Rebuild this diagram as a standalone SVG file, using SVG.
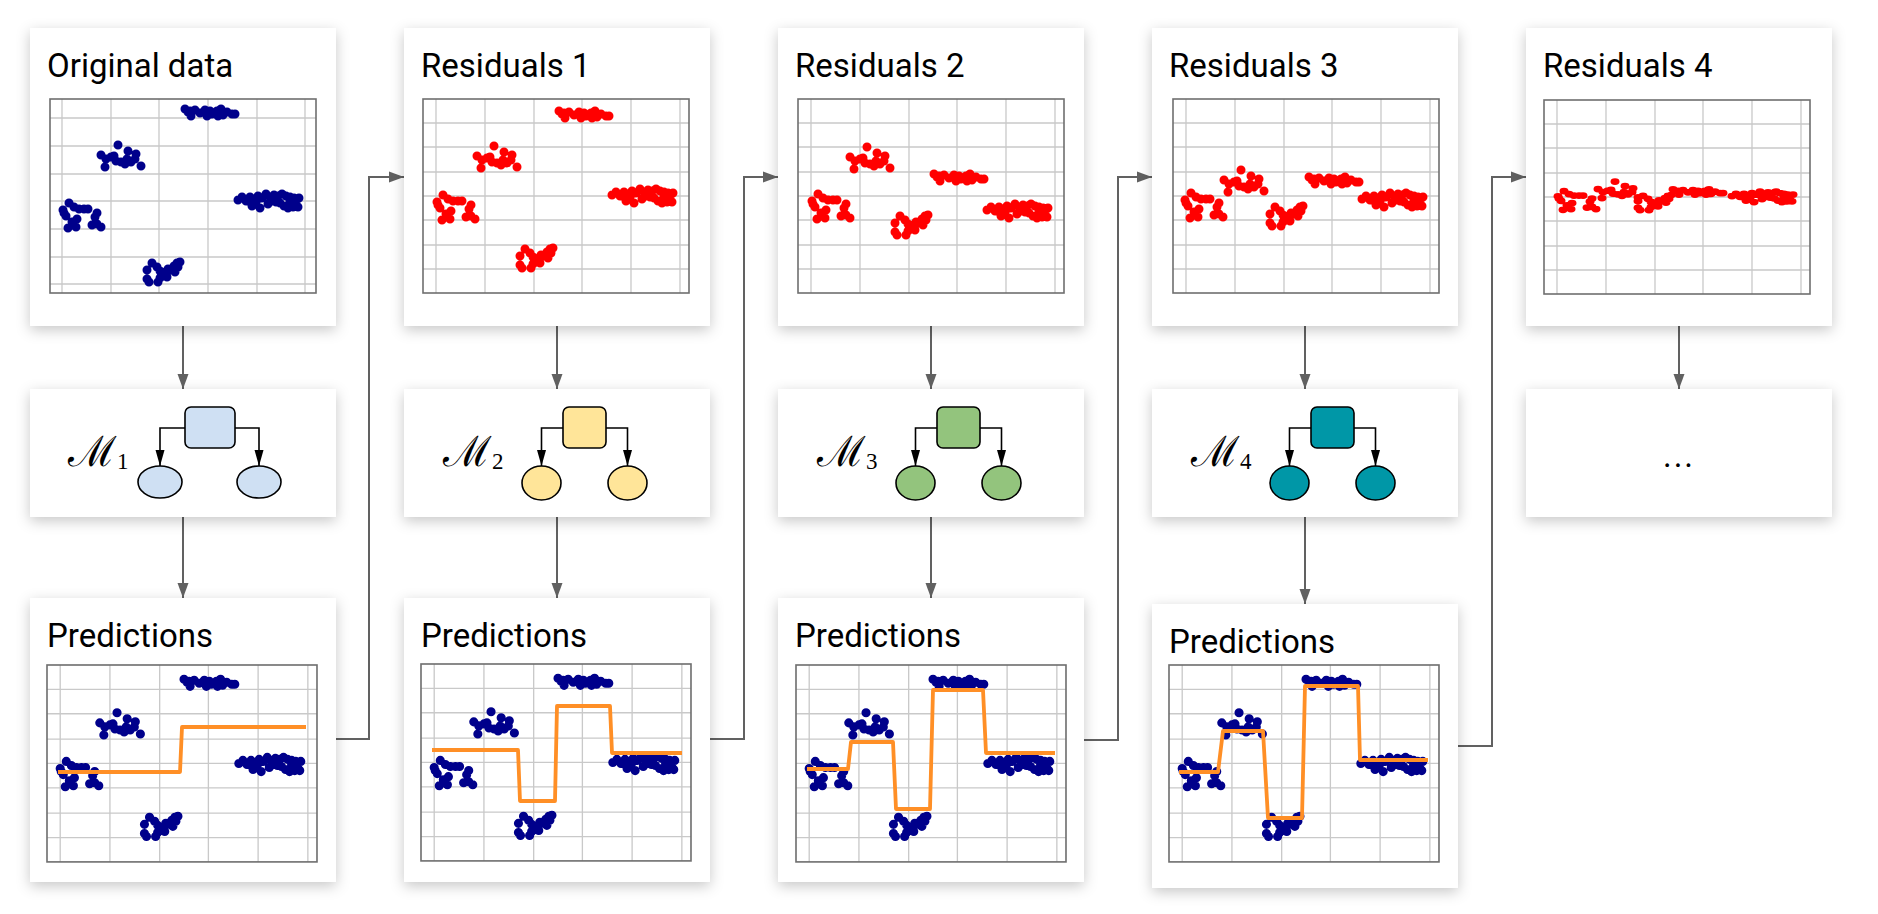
<svg xmlns="http://www.w3.org/2000/svg" xmlns:xlink="http://www.w3.org/1999/xlink" width="1878" height="914" viewBox="0 0 1878 914">
<style>
.card{fill:#fff;filter:url(#sh)}
.title{font-family:Roboto,'Liberation Sans',sans-serif;font-size:33px;fill:#000}
.gbg{fill:#fff}
.gl{stroke:#c9c9c9;stroke-width:1.3;fill:none}
.gb{fill:none;stroke:#6f6f6f;stroke-width:1.6}
.blue{stroke:#00008b;stroke-width:9;stroke-linecap:round;fill:none}
.red{stroke:#ff0000;stroke-width:9;stroke-linecap:round;fill:none}
.pred{fill:none;stroke:#ff8f26;stroke-width:3.8;stroke-linejoin:round}
.conn{fill:none;stroke:#616161;stroke-width:2}
.tree{fill:none;stroke:#000;stroke-width:1.6}
.node{stroke:#000;stroke-width:1.6}
.m{font-family:'DejaVu Serif',serif;font-size:42px;fill:#000}
.sub{font-family:'Liberation Serif',serif;font-size:23px}
</style>
<defs>
<filter id="sh" x="-15%" y="-15%" width="130%" height="135%">
<feDropShadow dx="0" dy="4" stdDeviation="7" flood-color="#000" flood-opacity="0.22"/>
</filter>
<marker id="ah" markerUnits="userSpaceOnUse" markerWidth="15" markerHeight="12" refX="15" refY="6" orient="auto">
<path d="M0,0.5 L15,6 L0,11.5 z" fill="#616161"/>
</marker>
<marker id="th" markerUnits="userSpaceOnUse" markerWidth="16" markerHeight="10" refX="16" refY="5" orient="auto">
<path d="M0,0.5 L16,5 L0,9.5 z" fill="#000"/>
</marker>
<g id="gridStd">
<rect class="gbg" x="0" y="0" width="266" height="194"/>
<path class="gl" d="M13,0V194M62,0V194M111,0V194M159,0V194M208,0V194M257,0V194M0,24H266M0,48H266M0,73H266M0,97H266M0,121H266M0,146H266M0,170H266"/>
<rect class="gb" x="0" y="0" width="266" height="194"/>
</g>
<g id="gridOrig">
<rect class="gbg" x="0" y="0" width="266" height="194"/>
<path class="gl" d="M12,0V194M61,0V194M109,0V194M158,0V194M207,0V194M255,0V194M0,19H266M0,47H266M0,75H266M0,102H266M0,130H266M0,158H266M0,185H266"/>
<rect class="gb" x="0" y="0" width="266" height="194"/>
</g>
<path id="cL" d="M-18,-5h.01M-12,-12h.01M-7,-8h.01M-2,-6h.01M3,-6h.01M7,-6h.01M16,-2h.01M-15,1h.01M-13,13h.01M-5,12h.01M11,10h.01M16,9h.01M20,12h.01M-17,-2h.01M14,2h.01M-4,4h.01M-9,7h.01"/>
<path id="cUL" d="M-5,-14h.01M-22,-4h.01M-17,0h.01M-12,-2h.01M-18,8h.01M-7,2h.01M-2,3h.01M5,-8h.01M4,0h.01M8,3h.01M13,-5h.01M12,0h.01M18,7h.01M2,5h.01M-9,-3h.01"/>
<path id="cT" d="M-25,-5h.01M-20,-3h.01M-15,-4h.01M-19,2h.01M-10,-1h.01M-5,-4h.01M-3,2h.01M2,0h.01M7,-3h.01M11,-5h.01M13,1h.01M17,-2h.01M22,0h.01M25,0h.01M-22,-2h.01M0,-3h.01M8,2h.01"/>
<path id="cR" d="M-32,0h.01M-28,-3h.01M-24,1h.01M-20,-3h.01M-16,-1h.01M-12,-4h.01M-8,-2h.01M-4,-6h.01M0,-3h.01M4,-5h.01M2,1h.01M-14,3h.01M-18,6h.01M-10,8h.01M8,-4h.01M12,-6h.01M16,-4h.01M20,-3h.01M24,-2h.01M29,-2h.01M10,3h.01M14,6h.01M18,8h.01M23,7h.01M28,7h.01M-2,4h.01M6,2h.01M20,1h.01M26,2h.01"/>
<path id="cB" d="M-18,0h.01M-13,-7h.01M-8,-3h.01M-5,1h.01M-3,4h.01M2,7h.01M-5,8h.01M-18,9h.01M-16,12h.01M-7,12h.01M5,0h.01M9,-4h.01M12,-7h.01M15,-8h.01M13,-3h.01M10,2h.01M3,-1h.01"/>
<g id="dataPred">
<use xlink:href="#cL" transform="translate(31,107)"/>
<use xlink:href="#cUL" transform="translate(74,61)"/>
<use xlink:href="#cT" transform="translate(160,19)"/>
<use xlink:href="#cR" transform="translate(221,97)"/>
<use xlink:href="#cB" transform="translate(114,157)"/>
</g>
</defs>
<rect width="1878" height="914" fill="#fff"/>

<g id="connectors">
<path class="conn" marker-end="url(#ah)" d="M183,326V389"/>
<path class="conn" marker-end="url(#ah)" d="M557,326V389"/>
<path class="conn" marker-end="url(#ah)" d="M931,326V389"/>
<path class="conn" marker-end="url(#ah)" d="M1305,326V389"/>
<path class="conn" marker-end="url(#ah)" d="M1679,326V389"/>
<path class="conn" marker-end="url(#ah)" d="M183,517V598"/>
<path class="conn" marker-end="url(#ah)" d="M557,517V598"/>
<path class="conn" marker-end="url(#ah)" d="M931,517V598"/>
<path class="conn" marker-end="url(#ah)" d="M1305,517V604"/>
<path class="conn" marker-end="url(#ah)" d="M336,739H369V177H404"/>
<path class="conn" marker-end="url(#ah)" d="M710,739H744V177H778"/>
<path class="conn" marker-end="url(#ah)" d="M1084,740H1118V177H1152"/>
<path class="conn" marker-end="url(#ah)" d="M1458,746H1492V177H1526"/>
</g>

<g id="original-data">
<rect class="card" x="30" y="28" width="306" height="298"/>
<text class="title" x="47" y="77">Original data</text>
<g transform="translate(50,99)">
<use xlink:href="#gridOrig"/>
<g class="blue">
<use xlink:href="#cL" transform="translate(31,116)"/>
<use xlink:href="#cUL" transform="translate(73,60)"/>
<use xlink:href="#cT" transform="translate(160,15)"/>
<use xlink:href="#cR" transform="translate(220,101)"/>
<use xlink:href="#cB" transform="translate(115,171)"/>
</g>
</g>
</g>

<g id="residuals-1">
<rect class="card" x="404" y="28" width="306" height="298"/>
<text class="title" x="421" y="77">Residuals 1</text>
<g transform="translate(423,99)">
<use xlink:href="#gridStd"/>
<g class="red">
<use xlink:href="#cL" transform="translate(32,108)"/>
<use xlink:href="#cUL" transform="translate(76,61)"/>
<use xlink:href="#cT" transform="translate(161,17)"/>
<use xlink:href="#cR" transform="translate(221,96)"/>
<use xlink:href="#cB" transform="translate(115,157)"/>
</g>
</g>
</g>

<g id="residuals-2">
<rect class="card" x="778" y="28" width="306" height="298"/>
<text class="title" x="795" y="77">Residuals 2</text>
<g transform="translate(798,99)">
<use xlink:href="#gridStd"/>
<g class="red">
<use xlink:href="#cL" transform="translate(32,107)"/>
<use xlink:href="#cUL" transform="translate(74,62)"/>
<use xlink:href="#cT" transform="translate(161,80)"/>
<use xlink:href="#cR" transform="translate(221,111)"/>
<use xlink:href="#cB" transform="translate(115,124)"/>
</g>
</g>
</g>

<g id="residuals-3">
<rect class="card" x="1152" y="28" width="306" height="298"/>
<text class="title" x="1169" y="77">Residuals 3</text>
<g transform="translate(1173,99)">
<use xlink:href="#gridStd"/>
<g class="red">
<use xlink:href="#cL" transform="translate(30,106)"/>
<use xlink:href="#cUL" transform="translate(73,85)"/>
<use xlink:href="#cT" transform="translate(161,83)"/>
<use xlink:href="#cR" transform="translate(221,100)"/>
<use xlink:href="#cB" transform="translate(115,115)"/>
</g>
</g>
</g>

<g id="residuals-4">
<rect class="card" x="1526" y="28" width="306" height="298"/>
<text class="title" x="1543" y="77">Residuals 4</text>
<g transform="translate(1544,100)">
<use xlink:href="#gridStd"/>
<g class="red">
<use xlink:href="#cL" transform="translate(32,100) scale(1,0.75)"/>
<use xlink:href="#cUL" transform="translate(76,92) scale(1,0.75)"/>
<use xlink:href="#cB" transform="translate(112,101) scale(1,0.75)"/>
<use xlink:href="#cT" transform="translate(154,93) scale(1,0.75)"/>
<use xlink:href="#cR" transform="translate(220,96) scale(1,0.75)"/>
</g>
</g>
</g>

<g id="model-1">
<rect class="card" x="30" y="389" width="306" height="128"/>
<text class="m" x="68" y="466">ℳ<tspan class="sub" dy="3">1</tspan></text>
<path class="tree" marker-end="url(#th)" d="M185,428H160V466"/>
<path class="tree" marker-end="url(#th)" d="M235,428H259V466"/>
<rect class="node" x="185" y="407" width="50" height="41" rx="6" fill="#cfe0f3"/>
<ellipse class="node" cx="160" cy="482" rx="22" ry="16" fill="#cfe0f3"/>
<ellipse class="node" cx="259" cy="482" rx="22" ry="16" fill="#cfe0f3"/>
</g>

<g id="model-2">
<rect class="card" x="404" y="389" width="306" height="128"/>
<text class="m" x="443" y="466">ℳ<tspan class="sub" dy="3">2</tspan></text>
<path class="tree" marker-end="url(#th)" d="M563,428H541.5V466"/>
<path class="tree" marker-end="url(#th)" d="M606,428H627.5V466"/>
<rect class="node" x="563" y="407" width="43" height="41" rx="6" fill="#ffe599"/>
<ellipse class="node" cx="541.5" cy="483" rx="19.5" ry="17" fill="#ffe599"/>
<ellipse class="node" cx="627.5" cy="483" rx="19.5" ry="17" fill="#ffe599"/>
</g>

<g id="model-3">
<rect class="card" x="778" y="389" width="306" height="128"/>
<text class="m" x="817" y="466">ℳ<tspan class="sub" dy="3">3</tspan></text>
<path class="tree" marker-end="url(#th)" d="M937,428H915.5V466"/>
<path class="tree" marker-end="url(#th)" d="M980,428H1001.5V466"/>
<rect class="node" x="937" y="407" width="43" height="41" rx="6" fill="#93c47d"/>
<ellipse class="node" cx="915.5" cy="483" rx="19.5" ry="17" fill="#93c47d"/>
<ellipse class="node" cx="1001.5" cy="483" rx="19.5" ry="17" fill="#93c47d"/>
</g>

<g id="model-4">
<rect class="card" x="1152" y="389" width="306" height="128"/>
<text class="m" x="1191" y="466">ℳ<tspan class="sub" dy="3">4</tspan></text>
<path class="tree" marker-end="url(#th)" d="M1311,428H1289.5V466"/>
<path class="tree" marker-end="url(#th)" d="M1354,428H1375.5V466"/>
<rect class="node" x="1311" y="407" width="43" height="41" rx="6" fill="#0097a7"/>
<ellipse class="node" cx="1289.5" cy="483" rx="19.5" ry="17" fill="#0097a7"/>
<ellipse class="node" cx="1375.5" cy="483" rx="19.5" ry="17" fill="#0097a7"/>
</g>

<g id="model-more">
<rect class="card" x="1526" y="389" width="306" height="128"/>
<text class="title" x="1679" y="467" text-anchor="middle" letter-spacing="2">...</text>
</g>

<g id="predictions-1">
<rect class="card" x="30" y="598" width="306" height="284"/>
<text class="title" x="47" y="647">Predictions</text>
<g transform="translate(47,665)">
<g transform="scale(1.015)"><use xlink:href="#gridStd"/><use class="blue" xlink:href="#dataPred"/></g>
<path class="pred" d="M11,107H133L135,62H259"/>
</g>
</g>

<g id="predictions-2">
<rect class="card" x="404" y="598" width="306" height="284"/>
<text class="title" x="421" y="647">Predictions</text>
<g transform="translate(421,664)">
<g transform="scale(1.015)"><use xlink:href="#gridStd"/><use class="blue" xlink:href="#dataPred"/></g>
<path class="pred" d="M11,86H97L99,137H134L136,42H189L191,89H261"/>
</g>
</g>

<g id="predictions-3">
<rect class="card" x="778" y="598" width="306" height="284"/>
<text class="title" x="795" y="647">Predictions</text>
<g transform="translate(796,665)">
<g transform="scale(1.015)"><use xlink:href="#gridStd"/><use class="blue" xlink:href="#dataPred"/></g>
<path class="pred" d="M11,104H52L55,77H97L100,144H134L137,25H187L190,88H259"/>
</g>
</g>

<g id="predictions-4">
<rect class="card" x="1152" y="604" width="306" height="284"/>
<text class="title" x="1169" y="653">Predictions</text>
<g transform="translate(1169,665)">
<g transform="scale(1.015)"><use xlink:href="#gridStd"/><use class="blue" xlink:href="#dataPred"/></g>
<path class="pred" d="M10,107H49L54,66H94L99,153H133L136,21H189L191,95H259"/>
</g>
</g>
</svg>
